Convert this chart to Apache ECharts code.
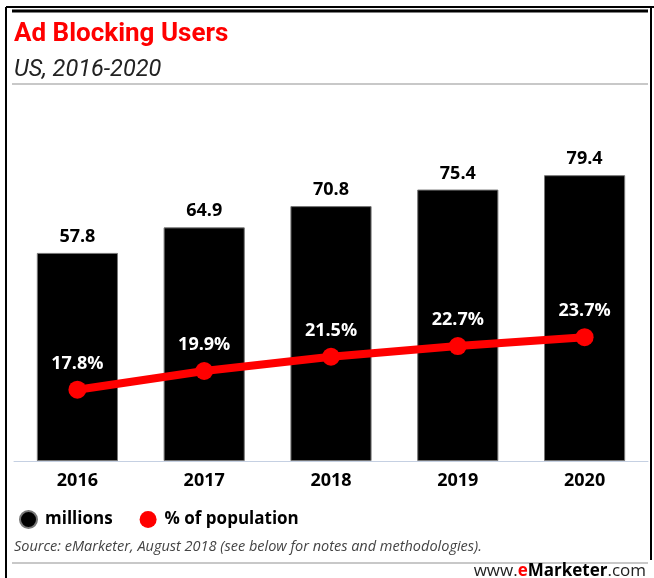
<!DOCTYPE html>
<html><head><meta charset="utf-8">
<script src="https://cdn.jsdelivr.net/npm/echarts@6/dist/echarts.min.js"></script>
<style>html,body{margin:0;padding:0;background:#fff}#c{width:654px;height:578px}</style>
</head><body><div id="c"></div>
<script>
const categories = ['2016','2017','2018','2019','2020'];
const millions = [57.8, 64.9, 70.8, 75.4, 79.4];
const pctPopulation = [17.8, 19.9, 21.5, 22.7, 23.7];
const seriesNames = ['millions', '% of population'];

const chart = echarts.init(document.getElementById('c'));
const F = '"Open Sans", "DejaVu Sans", sans-serif';
const R = 'Roboto, "Liberation Sans", sans-serif';
chart.setOption({
  animation: false,
  backgroundColor: '#fff',
  title: [
    {text: 'Ad Blocking Users', left: 9, top: 16, textStyle: {color: '#ff0000', fontFamily: R, fontWeight: 'bold', fontSize: 26}},
    {text: 'US, 2016-2020', left: 9, top: 54, textStyle: {color: '#222', fontFamily: R, fontStyle: 'italic', fontWeight: 'normal', fontSize: 23.5}}
  ],
  legend: {
    left: 14, top: 505, itemWidth: 17, itemHeight: 17, itemGap: 27,
    icon: 'circle',
    data: seriesNames,
    textStyle: {fontFamily: F, fontWeight: 'bold', fontSize: 17, color: '#000', padding: [0,0,0,3]}
  },
  grid: {left: 14, right: 6, top: 101, bottom: 117},
  xAxis: {
    type: 'category', data: categories,
    axisLine: {lineStyle: {color: '#c5d0e2', width: 1}},
    axisTick: {show: false},
    axisLabel: {color: '#000', fontFamily: F, fontWeight: 'bold', fontSize: 18, margin: 11}
  },
  yAxis: [
    {type: 'value', min: 0, max: 100, show: false, splitLine: {show: false}},
    {type: 'value', min: 9.8, max: 50.2, show: false, splitLine: {show: false}}
  ],
  series: [
    {name: seriesNames[0], type: 'bar', data: millions, barWidth: '64%',
     itemStyle: {color: '#000', borderColor: '#777', borderWidth: 1},
     label: {show: true, position: 'top', distance: 7, color: '#000', fontFamily: F, fontWeight: 'bold', fontSize: 18,
             formatter: p => p.value.toFixed(1)}},
    {name: seriesNames[1], type: 'line', yAxisIndex: 1, data: pctPopulation,
     symbol: 'circle', symbolSize: 18,
     lineStyle: {color: '#ff0000', width: 8},
     itemStyle: {color: '#ff0000'},
     label: {show: true, position: 'top', distance: 8, color: '#fff', fontFamily: F, fontWeight: 'bold', fontSize: 18,
             formatter: p => p.value.toFixed(1) + '%'}}
  ],
  graphic: [
    {type: 'line', shape: {x1: 6, y1: 7, x2: 654, y2: 7}, style: {stroke: '#000', lineWidth: 2}},
    {type: 'line', shape: {x1: 6, y1: 7, x2: 6, y2: 578}, style: {stroke: '#000', lineWidth: 2}},
    {type: 'line', shape: {x1: 651, y1: 7, x2: 651, y2: 560}, style: {stroke: '#000', lineWidth: 2}},
    {type: 'line', shape: {x1: 12, y1: 11, x2: 648, y2: 11}, style: {stroke: '#000', lineWidth: 3}},
    {type: 'line', shape: {x1: 12, y1: 84, x2: 648, y2: 84}, style: {stroke: '#c8c8c8', lineWidth: 2}},
    {type: 'text', left: 14, top: 539, style: {text: 'Source: eMarketer, August 2018 (see below for notes and methodologies).', fill: '#444', font: 'italic 14.5px "Open Sans", sans-serif'}},
    {type: 'line', shape: {x1: 12, y1: 563, x2: 648, y2: 563}, style: {stroke: '#c8c8c8', lineWidth: 2}},
    {type: 'text', right: 8, top: 563, style: {
      text: '{n|www.}{e|e}{b|Marketer}{n|.com}',
      rich: {
        n: {fill: '#222', font: '17px "Open Sans", sans-serif'},
        e: {fill: '#ff0000', font: 'bold 17px "Open Sans", sans-serif'},
        b: {fill: '#000', font: 'bold 17px "Open Sans", sans-serif'}
      }}}
  ]
});
</script></body></html>
